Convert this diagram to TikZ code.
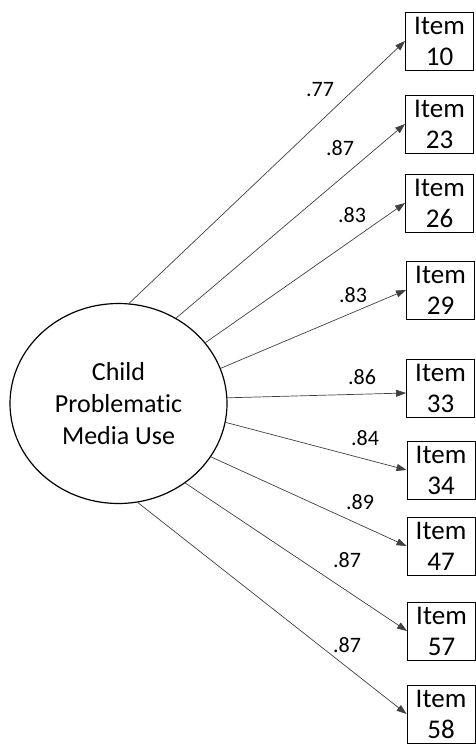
\documentclass[tikz,border=0pt]{standalone}
\usepackage{fontspec}
\setmainfont{Carlito}[Ligatures=NoCommon]
\usetikzlibrary{arrows.meta,shapes.geometric}

\begin{document}
\begin{tikzpicture}[x=1pt, y=-1pt,
    latent/.style = {ellipse, draw, line width=1.2pt, minimum width=217pt, minimum height=200pt,
        align=center, font=\fontsize{26}{32}\selectfont},
    itembox/.style = {draw, line width=0.9pt, minimum width=68pt, minimum height=58pt, inner sep=0pt,
        align=center, font=\fontsize{27}{31}\selectfont},
    load/.style = {draw=black!75, line width=0.7pt, -{Triangle[length=10pt, width=7pt]}},
    coef/.style = {font=\fontsize{22}{24}\selectfont, inner sep=0pt}]
    \useasboundingbox (0,0) rectangle (476,744);

    \node[latent] (cpmu) at (118.5,403.5) {Child\\Problematic\\Media Use};

    \node[itembox] (i10) at (439.5,41)  {Item\\10};
    \node[itembox] (i23) at (439.5,124) {Item\\23};
    \node[itembox] (i26) at (439.5,203) {Item\\26};
    \node[itembox] (i29) at (440.5,290) {Item\\29};
    \node[itembox] (i33) at (440.5,388) {Item\\33};
    \node[itembox] (i34) at (441,470)   {Item\\34};
    \node[itembox] (i47) at (441,546)   {Item\\47};
    \node[itembox] (i57) at (441.5,631) {Item\\57};
    \node[itembox] (i58) at (441,714)   {Item\\58};

    \draw[load] (cpmu.84)  -- (i10.west);
    \draw[load] (cpmu.56)  -- (i23.west);
    \draw[load] (cpmu.35)  -- (i26.west);
    \draw[load] (cpmu.19)  -- (i29.west);
    \draw[load] (cpmu.3)   -- ([yshift=-5pt]i33.west);
    \draw[load] (cpmu.-10) -- (i34.west);
    \draw[load] (cpmu.-30) -- (i47.west);
    \draw[load] (cpmu.-50) -- (i57.west);
    \draw[load] (cpmu.-79) -- (i58.west);

    \node[coef] (l10) at (320,90)  {.77};
    \node[coef] (l23) at (340,148) {.87};
    \node[coef] (l26) at (352,215) {.83};
    \node[coef] (l29) at (353,295) {.83};
    \node[coef] (l33) at (362,377) {.86};
    \node[coef] (l34) at (365,438) {.84};
    \node[coef] (l47) at (360,502) {.89};
    \node[coef] (l57) at (347,560) {.87};
    \node[coef] (l58) at (347,645) {.87};
\end{tikzpicture}
\end{document}
